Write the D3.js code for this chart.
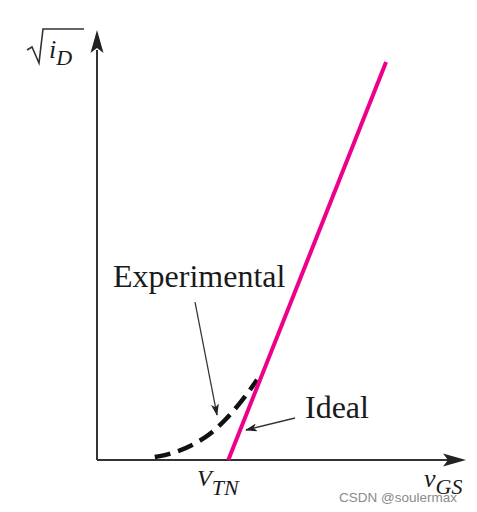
<!DOCTYPE html>
<html lang="en">
<head>
  <meta charset="utf-8">
  <title>sqrt(iD) vs vGS</title>
  <script src="https://d3js.org/d3.v7.min.js" charset="utf-8"></script>
  <style>
    body { margin: 0; background: #fff; }
    .lbl { font-family: "Liberation Serif", "Times New Roman", serif; fill: #1a1a1a; }
    .it { font-style: italic; }
    .wm { font-family: "Liberation Sans", Arial, sans-serif; fill: #8a8a8a; font-size: 13.5px; }
  </style>
</head>
<body>
<script>
  // curves, in arbitrary units (x: vGS, y: sqrt(iD))
  var idealX = [3.52, 7.75];
  var idealY = [0, 9.43];
  var expX = [1.55, 2.14, 2.95, 3.49, 3.91, 4.29];
  var expY = [0.07, 0.17, 0.52, 0.99, 1.42, 1.90];

  var width = 477, height = 512;

  var svg = d3.select("body").append("svg")
    .attr("width", width)
    .attr("height", height);

  var x = d3.scaleLinear().domain([0, 10]).range([97, 470]);
  var y = d3.scaleLinear().domain([0, 10]).range([460, 38]);

  var line = d3.line().x(function(d) { return x(d[0]); }).y(function(d) { return y(d[1]); });
  var curve = d3.line().curve(d3.curveBasis)
    .x(function(d) { return x(d[0]); }).y(function(d) { return y(d[1]); });

  var defs = svg.append("defs");
  defs.append("marker")
    .attr("id", "ah")
    .attr("viewBox", "0 0 12 8")
    .attr("refX", 11).attr("refY", 4)
    .attr("markerWidth", 12).attr("markerHeight", 8)
    .attr("markerUnits", "userSpaceOnUse")
    .attr("orient", "auto")
    .append("path")
    .attr("d", "M0,0 L12,4 L0,8 L3,4 Z")
    .attr("fill", "#222");

  // axes (no ticks)
  var ax = svg.append("g");
  ax.append("line")
    .attr("x1", x(0)).attr("y1", y(0))
    .attr("x2", x(0)).attr("y2", 50)
    .attr("stroke", "#333").attr("stroke-width", 2);
  ax.append("line")
    .attr("x1", x(0)).attr("y1", y(0))
    .attr("x2", 452).attr("y2", y(0))
    .attr("stroke", "#333").attr("stroke-width", 2);
  // arrow heads
  ax.append("path")
    .attr("d", "M" + x(0) + ",30 L" + (x(0) + 6.5) + ",53 L" + x(0) + ",48 L" + (x(0) - 6.5) + ",53 Z")
    .attr("fill", "#222");
  ax.append("path")
    .attr("d", "M466," + y(0) + " L443," + (y(0) - 6.5) + " L448," + y(0) + " L443," + (y(0) + 6.5) + " Z")
    .attr("fill", "#222");

  // experimental (dashed)
  svg.append("path")
    .datum(d3.zip(expX, expY))
    .attr("d", curve)
    .attr("fill", "none")
    .attr("stroke", "#111")
    .attr("stroke-width", 4.5)
    .attr("stroke-dasharray", "16,8");

  // ideal
  svg.append("path")
    .datum(d3.zip(idealX, idealY))
    .attr("d", line)
    .attr("fill", "none")
    .attr("stroke", "#ec008c")
    .attr("stroke-width", 4);

  // annotation arrows
  svg.append("line")
    .attr("x1", 195).attr("y1", 302).attr("x2", 217).attr("y2", 415)
    .attr("stroke", "#333").attr("stroke-width", 1.3)
    .attr("marker-end", "url(#ah)");
  svg.append("line")
    .attr("x1", 295).attr("y1", 418).attr("x2", 246).attr("y2", 430)
    .attr("stroke", "#333").attr("stroke-width", 1.3)
    .attr("marker-end", "url(#ah)");

  // labels
  svg.append("text").attr("class", "lbl")
    .attr("x", 113).attr("y", 287)
    .style("font-size", "32px")
    .text("Experimental");
  svg.append("text").attr("class", "lbl")
    .attr("x", 305).attr("y", 418)
    .style("font-size", "32px")
    .text("Ideal");

  // y label: sqrt(iD) — radical drawn as a stroke, iD as text
  svg.append("path")
    .attr("d", "M27,50 L32,47 L39,63 L43,29 L84,29")
    .attr("fill", "none")
    .attr("stroke", "#333")
    .attr("stroke-width", 1.6)
    .attr("stroke-linejoin", "miter");
  var yl = svg.append("text").attr("class", "lbl it")
    .attr("x", 49).attr("y", 58)
    .style("font-size", "26px");
  yl.append("tspan").text("i");
  yl.append("tspan").attr("dy", 7).style("font-size", "22px").text("D");

  // x labels
  var vt = svg.append("text").attr("class", "lbl it")
    .attr("x", 197).attr("y", 486)
    .style("font-size", "24px");
  vt.append("tspan").text("V");
  vt.append("tspan").attr("dy", 9).style("font-size", "22px").text("TN");

  var vg = svg.append("text").attr("class", "lbl it")
    .attr("x", 424).attr("y", 487)
    .style("font-size", "26px");
  vg.append("tspan").text("v");
  vg.append("tspan").attr("dy", 7).style("font-size", "22px").text("GS");

  // watermark
  svg.append("text").attr("class", "wm")
    .attr("x", 339).attr("y", 502)
    .text("CSDN @soulermax");
</script>
</body>
</html>
